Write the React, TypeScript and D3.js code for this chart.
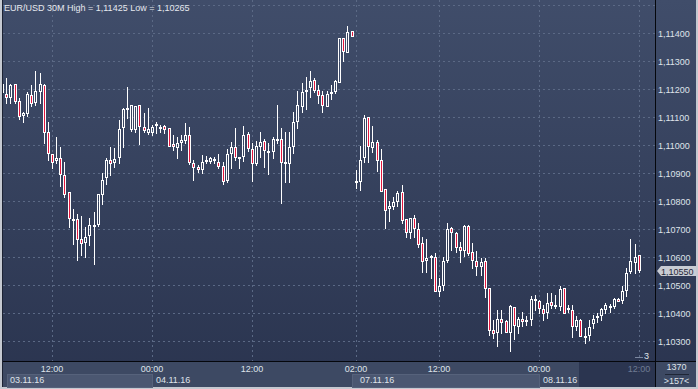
import React from "react";
import * as d3 from "d3";

// EUR/USD 30M candles, 03.11.16 06:00 → 08.11.16 12:00
const OPEN = [
  1.11186, 1.11182, 1.11168, 1.11218, 1.11157, 1.11104, 1.11111, 1.11179, 1.1115, 1.11189,
  1.11214, 1.11046, 1.10968, 1.10943, 1.10954, 1.10893, 1.10832, 1.10736, 1.10736, 1.10664,
  1.1065, 1.10675, 1.10714, 1.10714, 1.10821, 1.10882, 1.10946, 1.10936, 1.10954, 1.11061,
  1.11125, 1.11054, 1.11054, 1.11143, 1.11064, 1.11043, 1.11043, 1.11068, 1.11064, 1.11068,
  1.11061, 1.11004, 1.10989, 1.11007, 1.11014, 1.11036, 1.10936, 1.10921, 1.10911, 1.10943,
  1.10939, 1.10946, 1.10939, 1.10925, 1.10871, 1.10968, 1.10993, 1.10954, 1.10957, 1.11039,
  1.10986, 1.10932, 1.10993, 1.11014, 1.10979, 1.10975, 1.11018, 1.11021, 1.10939, 1.10932,
  1.10993, 1.11082, 1.11136, 1.11193, 1.11204, 1.11232, 1.11196, 1.11179, 1.11136, 1.11182,
  1.11189, 1.11221, 1.11382, 1.11329, 1.11407, 1.10868, 1.10868, 1.10954, 1.111, 1.10989,
  1.11011, 1.10946, 1.10843, 1.10771, 1.10779, 1.10796, 1.10832, 1.10736, 1.10686, 1.10739,
  1.107, 1.1065, 1.10586, 1.10596, 1.106, 1.10475, 1.10496, 1.10586, 1.10704, 1.10686,
  1.10636, 1.10621, 1.10711, 1.10618, 1.10586, 1.10564, 1.10586, 1.10489, 1.10339, 1.10329,
  1.10379, 1.10371, 1.10329, 1.10421, 1.1035, 1.10379, 1.10375, 1.10375, 1.10443, 1.10443,
  1.10414, 1.104, 1.10439, 1.10429, 1.10421, 1.10489, 1.10418, 1.10411, 1.1035, 1.10375,
  1.10318, 1.10318, 1.10361, 1.10386, 1.10389, 1.10411, 1.10421, 1.10421, 1.1045, 1.10443,
  1.10479, 1.10546, 1.10579, 1.10607,
];
const HIGH = [
  1.11239, 1.11239, 1.11218, 1.11218, 1.11168, 1.11118, 1.11189, 1.11214, 1.11264, 1.11257,
  1.11218, 1.11082, 1.10968, 1.11029, 1.10993, 1.10939, 1.10832, 1.10771, 1.10754, 1.10746,
  1.10707, 1.10739, 1.10761, 1.10825, 1.109, 1.10954, 1.10993, 1.10989, 1.11089, 1.11132,
  1.11207, 1.11143, 1.11139, 1.11143, 1.11114, 1.11132, 1.11071, 1.11082, 1.11071, 1.11071,
  1.11061, 1.11036, 1.11029, 1.11036, 1.11079, 1.11064, 1.10946, 1.10929, 1.10964, 1.10961,
  1.10957, 1.10957, 1.10968, 1.10939, 1.10986, 1.11011, 1.11061, 1.10957, 1.11068, 1.11046,
  1.11007, 1.11014, 1.11046, 1.11021, 1.11007, 1.11029, 1.11143, 1.11061, 1.11046, 1.11046,
  1.11118, 1.11193, 1.11221, 1.11243, 1.11264, 1.11239, 1.11214, 1.11193, 1.11193, 1.11214,
  1.11232, 1.11382, 1.11382, 1.11425, 1.11407, 1.10911, 1.10996, 1.11107, 1.111, 1.11068,
  1.11018, 1.10986, 1.10843, 1.108, 1.10814, 1.10836, 1.10857, 1.10736, 1.10739, 1.1075,
  1.10721, 1.10671, 1.10664, 1.10607, 1.10614, 1.10525, 1.106, 1.10721, 1.10707, 1.10689,
  1.10654, 1.10714, 1.10714, 1.1065, 1.10621, 1.10596, 1.10596, 1.10489, 1.10375, 1.10411,
  1.10411, 1.10375, 1.10429, 1.10421, 1.10386, 1.10404, 1.10389, 1.10461, 1.10464, 1.10446,
  1.10429, 1.10471, 1.10471, 1.10464, 1.10496, 1.10489, 1.10429, 1.10429, 1.10389, 1.10379,
  1.10346, 1.10375, 1.10393, 1.104, 1.10418, 1.10436, 1.10432, 1.10454, 1.10454, 1.10496,
  1.10561, 1.10664, 1.10646, 1.10607,
];
const LOW = [
  1.11175, 1.1115, 1.1115, 1.1115, 1.11093, 1.11082, 1.11104, 1.11139, 1.11143, 1.1115,
  1.11007, 1.10946, 1.10918, 1.10936, 1.10854, 1.10814, 1.10707, 1.10646, 1.10589, 1.10607,
  1.106, 1.10643, 1.10575, 1.10711, 1.10789, 1.10861, 1.10893, 1.10921, 1.10936, 1.10993,
  1.11096, 1.1105, 1.11046, 1.11004, 1.11046, 1.11039, 1.11036, 1.11043, 1.11046, 1.11043,
  1.10993, 1.10982, 1.10954, 1.10982, 1.11007, 1.10932, 1.10875, 1.10904, 1.109, 1.10936,
  1.10936, 1.10936, 1.10918, 1.10861, 1.10868, 1.10918, 1.10946, 1.10918, 1.10943, 1.10979,
  1.10871, 1.10929, 1.10957, 1.10921, 1.10896, 1.10954, 1.11007, 1.10793, 1.10868, 1.10868,
  1.10971, 1.11061, 1.11118, 1.11129, 1.11171, 1.11189, 1.1115, 1.11118, 1.11136, 1.11164,
  1.11186, 1.11221, 1.113, 1.11329, 1.11386, 1.10846, 1.10839, 1.10939, 1.10939, 1.10975,
  1.10907, 1.10832, 1.10704, 1.10729, 1.10771, 1.10782, 1.10721, 1.10671, 1.10668, 1.10671,
  1.10636, 1.10546, 1.10546, 1.10525, 1.10475, 1.10461, 1.10482, 1.10582, 1.10625, 1.10618,
  1.10582, 1.10604, 1.10607, 1.10561, 1.10536, 1.10536, 1.10457, 1.10321, 1.10311, 1.10282,
  1.10329, 1.10329, 1.10265, 1.10307, 1.10329, 1.10354, 1.10357, 1.10357, 1.10411, 1.104,
  1.10375, 1.10382, 1.10418, 1.10418, 1.10411, 1.10396, 1.10404, 1.10314, 1.10339, 1.10314,
  1.10293, 1.10304, 1.10346, 1.10368, 1.10375, 1.104, 1.10404, 1.10418, 1.10439, 1.10436,
  1.10461, 1.10543, 1.10543, 1.10546,
];
const CLOSE = [
  1.11218, 1.11168, 1.11214, 1.11154, 1.111, 1.11114, 1.11182, 1.11146, 1.11193, 1.11218,
  1.11043, 1.10968, 1.10936, 1.10954, 1.10893, 1.10821, 1.10736, 1.10737, 1.10661, 1.10646,
  1.10671, 1.10714, 1.10715, 1.10825, 1.10875, 1.10946, 1.10932, 1.1095, 1.11057, 1.11129,
  1.11132, 1.11143, 1.11139, 1.11064, 1.1105, 1.11057, 1.11064, 1.11075, 1.11057, 1.11054,
  1.10993, 1.10993, 1.11007, 1.11018, 1.11036, 1.10936, 1.10918, 1.10911, 1.10939, 1.10946,
  1.10954, 1.1095, 1.10921, 1.10868, 1.10968, 1.10993, 1.10954, 1.10957, 1.11036, 1.10986,
  1.10932, 1.10996, 1.11011, 1.10979, 1.1098, 1.11021, 1.11021, 1.10936, 1.10932, 1.10993,
  1.11082, 1.11143, 1.11189, 1.11196, 1.11229, 1.11193, 1.11175, 1.11139, 1.11182, 1.11189,
  1.11229, 1.11382, 1.11332, 1.11404, 1.11386, 1.1087, 1.10946, 1.11096, 1.10993, 1.11011,
  1.10943, 1.10832, 1.10764, 1.10782, 1.10796, 1.10829, 1.10729, 1.10686, 1.10739, 1.107,
  1.10643, 1.10582, 1.10596, 1.10604, 1.10475, 1.10496, 1.10586, 1.107, 1.10686, 1.10632,
  1.10621, 1.10711, 1.10611, 1.10586, 1.10564, 1.10582, 1.10486, 1.10336, 1.10325, 1.10379,
  1.10364, 1.10329, 1.10425, 1.10354, 1.10379, 1.10368, 1.10376, 1.1045, 1.1045, 1.10414,
  1.10396, 1.10436, 1.10425, 1.10421, 1.10486, 1.10396, 1.10411, 1.1035, 1.10375, 1.10314,
  1.10319, 1.1035, 1.10379, 1.10389, 1.10414, 1.10429, 1.10425, 1.1045, 1.10439, 1.10479,
  1.10543, 1.10586, 1.106, 1.1055,
];

const TITLE = "EUR/USD 30M High = 1,11425 Low = 1,10265";
const LAST_PRICE = 1.1055;

// time axis: candle index of each tick
const TIME_TICKS = [12, 36, 60, 85, 105, 129, 153];
const TIME_LABELS = ["12:00", "00:00", "12:00", "02:00", "12:00", "00:00", "12:00"];
const DATE_STARTS = [1, 36, 84, 129];
const DATE_LABELS = ["03.11.16", "04.11.16", "07.11.16", "08.11.16"];

const W = 698;
const H = 389;
const PLOT = { left: 3, right: 655, top: 0, bottom: 361 };
const AXIS_BOTTOM = 387;
const DARK_FROM = 579; // dark strip under the latest bars

const BULL_STROKE = "#ffffff";
const BEAR_FILL = "#e3173e";
const GRID = "#5b6985";
const TEXT = "#dfe3ea";
const FONT = "'Liberation Sans', Arial, sans-serif";

const fmt = (v: number) => d3.format(".5f")(v).replace(".", ",");

export default function App() {
  const x = d3.scaleLinear().domain([12, 153]).range([52, 638.7]);
  const y = d3.scaleLinear().domain([1.103, 1.114]).range([341, 33]);

  const gridPrices = d3.scaleLinear().domain([1.103, 1.115]).ticks(12);
  const labelPrices = y.ticks(11);

  const candles = OPEN.map((o, i) => ({
    i,
    o,
    h: HIGH[i],
    l: LOW[i],
    c: CLOSE[i],
  }));

  const bx = (p: number) => Math.round(y(p));

  return (
    <svg
      width={W}
      height={H}
      style={{ position: "absolute", left: 0, top: 0, fontFamily: FONT }}
      shapeRendering="crispEdges"
    >
      <defs>
        <linearGradient id="bg" x1="0" y1="0" x2="0" y2="1">
          <stop offset="0" stopColor="#404d6a" />
          <stop offset="1" stopColor="#2a344f" />
        </linearGradient>
        <clipPath id="plotClip">
          <rect x={PLOT.left} y={PLOT.top} width={PLOT.right - PLOT.left} height={PLOT.bottom - PLOT.top} />
        </clipPath>
      </defs>

      {/* frame + backgrounds */}
      <rect x={0} y={0} width={W} height={H} fill="#c5c9d1" />
      <rect x={PLOT.left} y={0} width={W - PLOT.left - 2} height={AXIS_BOTTOM} fill="url(#bg)" />
      <rect x={PLOT.left} y={PLOT.bottom} width={W - PLOT.left - 2} height={AXIS_BOTTOM - PLOT.bottom} fill="#3d4963" />

      {/* date boxes (alternate days lighter) */}
      {DATE_STARTS.map((s, k) => {
        const x0 = k === 0 ? 7 : Math.round(x(s)) + (k === 2 ? 0 : 0);
        const x1 = k < DATE_STARTS.length - 1 ? Math.round(x(DATE_STARTS[k + 1])) : DARK_FROM;
        return (
          <g key={DATE_LABELS[k]}>
            {k % 2 === 0 && (
              <rect x={x0} y={374} width={x1 - x0} height={AXIS_BOTTOM - 374} fill="#4b5771" stroke="#56627b" />
            )}
          </g>
        );
      })}
      <rect x={DARK_FROM} y={PLOT.bottom} width={PLOT.right - DARK_FROM} height={AXIS_BOTTOM - PLOT.bottom} fill="#2b3550" />

      {/* grid */}
      {gridPrices.map((p) => (
        <line
          key={"h" + p}
          x1={PLOT.left}
          x2={PLOT.right}
          y1={bx(p) + 0.5}
          y2={bx(p) + 0.5}
          stroke={GRID}
          strokeDasharray="2,3"
        />
      ))}
      {TIME_TICKS.map((t) => (
        <line
          key={"v" + t}
          x1={Math.round(x(t)) + 0.5}
          x2={Math.round(x(t)) + 0.5}
          y1={PLOT.top}
          y2={PLOT.bottom}
          stroke={GRID}
          strokeDasharray="2,3"
        />
      ))}

      {/* candles */}
      <g clipPath="url(#plotClip)">
        {candles.map((d) => {
          const cx = Math.round(x(d.i));
          const bear = d.c < d.o;
          let top = bx(Math.max(d.o, d.c));
          let bot = bx(Math.min(d.o, d.c));
          if (bot - top < 2) bot = top + 2;
          const hi = bx(d.h);
          const lo = bx(d.l);
          return (
            <g key={d.i}>
              {hi < top && (
                <line x1={cx + 0.5} x2={cx + 0.5} y1={hi} y2={top} stroke={BULL_STROKE} />
              )}
              {lo > bot && (
                <line x1={cx + 0.5} x2={cx + 0.5} y1={bot} y2={lo + 1} stroke={BULL_STROKE} />
              )}
              <rect
                x={cx - 0.5}
                y={top + 0.5}
                width={2}
                height={Math.max(bot - top - 1, 1)}
                fill={bear ? BEAR_FILL : "none"}
                stroke={BULL_STROKE}
              />
            </g>
          );
        })}
      </g>

      {/* title */}
      <text x={4} y={11} fontSize={9} fill="#e6e9ef" shapeRendering="auto">
        {TITLE}
      </text>

      {/* small marker near the last bar */}
      <line x1={635} x2={643} y1={357.5} y2={357.5} stroke="#7c88a0" />
      <text x={644} y={359} fontSize={9} fill={TEXT}>
        3
      </text>

      {/* separators */}
      <line x1={PLOT.right + 0.5} x2={PLOT.right + 0.5} y1={0} y2={AXIS_BOTTOM} stroke="#05070c" />
      <line x1={PLOT.left} x2={W - 2} y1={PLOT.bottom + 0.5} y2={PLOT.bottom + 0.5} stroke="#05070c" />
      <line x1={PLOT.left - 0.5} x2={PLOT.left - 0.5} y1={0} y2={AXIS_BOTTOM} stroke="#1c2233" />

      {/* price axis */}
      {labelPrices.map((p) => (
        <text key={"l" + p} x={658} y={bx(p) + 3.5} fontSize={9} fill={TEXT}>
          {fmt(p)}
        </text>
      ))}

      {/* last price tag */}
      <path
        d={`M657,${bx(LAST_PRICE)} L661,${bx(LAST_PRICE) - 5} L696,${bx(LAST_PRICE) - 5} L696,${bx(LAST_PRICE) + 5} L661,${bx(LAST_PRICE) + 5} Z`}
        fill="#c8ccd4"
        shapeRendering="auto"
      />
      <text x={661} y={bx(LAST_PRICE) + 3.5} fontSize={9} fill="#1f2738">
        {fmt(LAST_PRICE)}
      </text>

      {/* time axis */}
      {TIME_TICKS.map((t, k) => (
        <text
          key={"t" + t}
          x={Math.round(x(t))}
          y={371.5}
          fontSize={9}
          textAnchor="middle"
          fill={x(t) > DARK_FROM ? "#6f7b93" : TEXT}
        >
          {TIME_LABELS[k]}
        </text>
      ))}
      {DATE_STARTS.map((s, k) => (
        <text key={"d" + s} x={k === 0 ? 10 : Math.round(x(s)) + (k === 2 ? 8 : 4)} y={383} fontSize={9} fill={TEXT}>
          {DATE_LABELS[k]}
        </text>
      ))}
      <rect x={DARK_FROM} y={374} width={PLOT.right - DARK_FROM} height={AXIS_BOTTOM - 374} fill="#2b3550" />

      {/* corner counters */}
      <text x={676.5} y={370} fontSize={9} textAnchor="middle" fill={TEXT}>
        1370
      </text>
      <line x1={665} x2={689} y1={374.5} y2={374.5} stroke="#1f2636" />
      <text x={676.5} y={384} fontSize={9} textAnchor="middle" fill={TEXT}>
        {">157<"}
      </text>
    </svg>
  );
}
